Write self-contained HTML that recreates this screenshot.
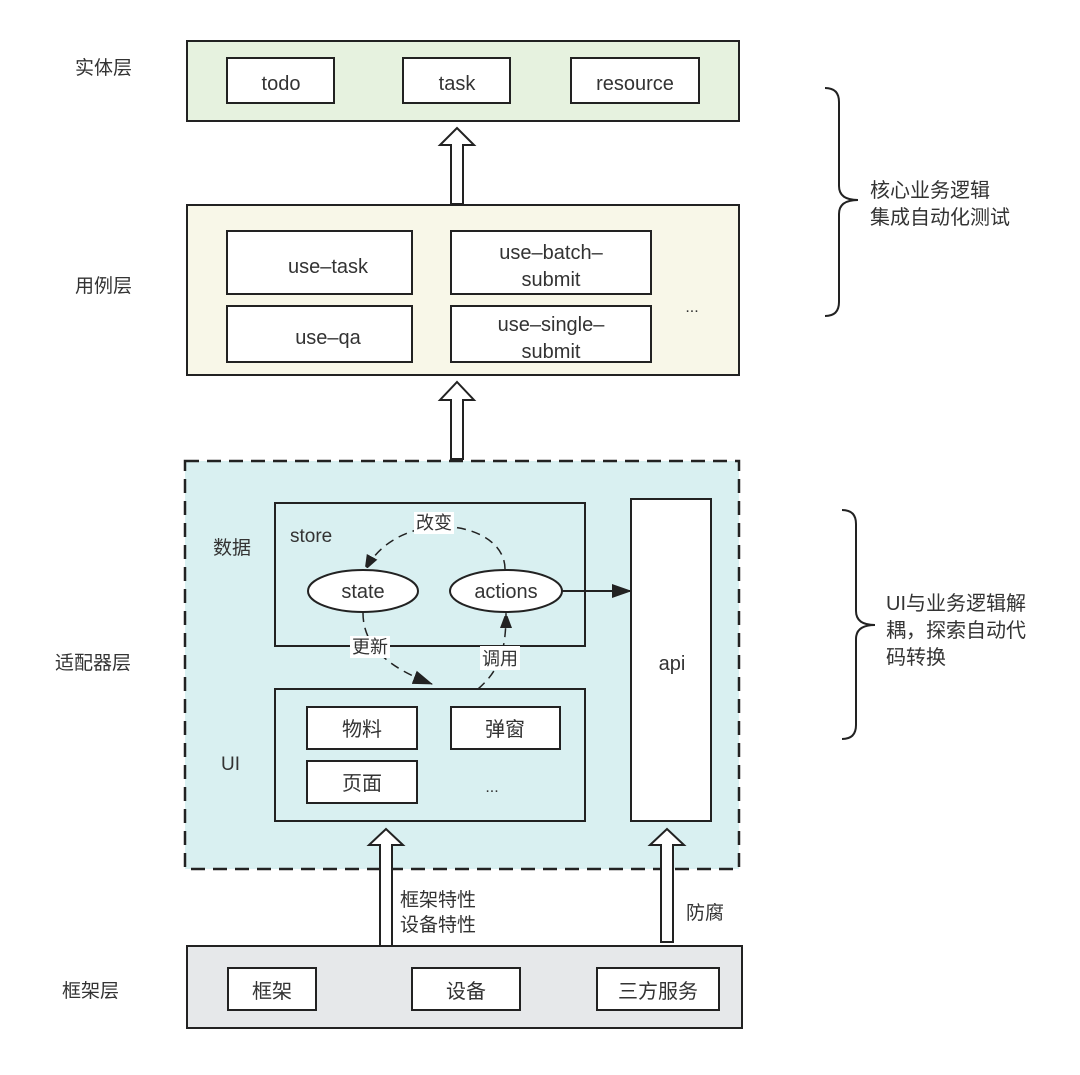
<!DOCTYPE html>
<html><head><meta charset="utf-8"><style>
body{margin:0;background:#fff}
svg text{font-family:"Liberation Sans","Noto Sans CJK SC",sans-serif;fill:#333}
</style></head><body>
<svg width="1080" height="1070" viewBox="0 0 1080 1070" xmlns="http://www.w3.org/2000/svg">
<defs>
<marker id="ah" markerWidth="12" markerHeight="16" refX="15" refY="6" orient="auto" markerUnits="userSpaceOnUse"><path d="M0,0 L16,6 L0,12 z" fill="#222"/></marker>
<marker id="ah2" markerWidth="20" markerHeight="14" refX="19" refY="7" orient="auto" markerUnits="userSpaceOnUse"><path d="M0,0 L20,7 L0,14 z" fill="#222"/></marker>
</defs>
<g font-size="19">
<text x="75" y="74">实体层</text>
<text x="75" y="292">用例层</text>
<text x="55" y="669">适配器层</text>
<text x="62" y="997">框架层</text>
</g>
<!-- entity -->
<rect x="187" y="41" width="552" height="80" fill="#e6f2df" stroke="#222" stroke-width="2"/>
<g fill="#fff" stroke="#222" stroke-width="2">
<rect x="227" y="58" width="107" height="45"/><rect x="403" y="58" width="107" height="45"/><rect x="571" y="58" width="128" height="45"/>
</g>
<g font-size="20" text-anchor="middle"><text x="281" y="90">todo</text><text x="457" y="90">task</text><text x="635" y="90">resource</text></g>
<!-- use-case -->
<rect x="187" y="205" width="552" height="170" fill="#f8f7e8" stroke="#222" stroke-width="2"/>
<g fill="#fff" stroke="#222" stroke-width="2">
<rect x="227" y="231" width="185" height="63"/><rect x="451" y="231" width="200" height="63"/>
<rect x="227" y="306" width="185" height="56"/><rect x="451" y="306" width="200" height="56"/>
</g>
<g font-size="20" text-anchor="middle">
<text x="328" y="273">use–task</text>
<text x="551" y="259">use–batch–</text><text x="551" y="286">submit</text>
<text x="328" y="344">use–qa</text>
<text x="551" y="331">use–single–</text><text x="551" y="358">submit</text>
<text x="692" y="312" font-size="16">...</text>
</g>
<!-- hollow arrows -->
<g fill="#fff" stroke="#222" stroke-width="2">
<path d="M451,204 L451,145 L440,145 L457,128 L474,145 L463,145 L463,204 z"/>
<path d="M451,459 L451,400 L440,400 L457,382 L474,400 L463,400 L463,459 z"/>
</g>
<!-- adapter -->
<rect x="185" y="461" width="554" height="408" fill="#d9f0f1" stroke="#222" stroke-width="2.5" stroke-dasharray="14,8"/>
<rect x="275" y="503" width="310" height="143" fill="none" stroke="#222" stroke-width="2"/>
<rect x="631" y="499" width="80" height="322" fill="#fff" stroke="#222" stroke-width="2"/>
<rect x="275" y="689" width="310" height="132" fill="none" stroke="#222" stroke-width="2"/>
<text x="672" y="670" font-size="20" text-anchor="middle">api</text>
<text x="213" y="554" font-size="19">数据</text>
<text x="221" y="770" font-size="19">UI</text>
<text x="290" y="542" font-size="19">store</text>
<!-- dashed connections -->
<path d="M505,569 C505,520 400,505 365,570" fill="none" stroke="#222" stroke-width="1.5" stroke-dasharray="9,6" marker-end="url(#ah)"/>
<rect x="414" y="512" width="40" height="22" fill="#fff"/>
<text x="434" y="529" font-size="18" text-anchor="middle">改变</text>
<path d="M363,613 C363,650 395,670 432,684" fill="none" stroke="#222" stroke-width="1.5" stroke-dasharray="9,6" marker-end="url(#ah2)"/>
<rect x="350" y="636" width="40" height="22" fill="#fff"/>
<text x="370" y="653" font-size="18" text-anchor="middle">更新</text>
<path d="M478,689 C500,670 506,650 506,613" fill="none" stroke="#222" stroke-width="1.5" stroke-dasharray="9,6" marker-end="url(#ah)"/>
<rect x="480" y="646" width="40" height="24" fill="#fff"/>
<text x="500" y="665" font-size="18" text-anchor="middle">调用</text>
<ellipse cx="363" cy="591" rx="55" ry="21" fill="#fff" stroke="#222" stroke-width="2"/>
<ellipse cx="506" cy="591" rx="56" ry="21" fill="#fff" stroke="#222" stroke-width="2"/>
<text x="363" y="598" font-size="20" text-anchor="middle">state</text>
<text x="506" y="598" font-size="20" text-anchor="middle">actions</text>
<line x1="562" y1="591" x2="631" y2="591" stroke="#222" stroke-width="2" marker-end="url(#ah2)"/>
<g fill="#fff" stroke="#222" stroke-width="2">
<rect x="307" y="707" width="110" height="42"/><rect x="451" y="707" width="109" height="42"/><rect x="307" y="761" width="110" height="42"/>
</g>
<g font-size="20" text-anchor="middle"><text x="362" y="736">物料</text><text x="505" y="736">弹窗</text><text x="362" y="790">页面</text><text x="492" y="792" font-size="16">...</text></g>
<!-- framework -->
<rect x="187" y="946" width="555" height="82" fill="#e6e8ea" stroke="#222" stroke-width="2"/>
<g fill="#fff" stroke="#222" stroke-width="2">
<rect x="228" y="968" width="88" height="42"/><rect x="412" y="968" width="108" height="42"/><rect x="597" y="968" width="122" height="42"/>
</g>
<g font-size="20" text-anchor="middle"><text x="272" y="998">框架</text><text x="466" y="998">设备</text><text x="658" y="998">三方服务</text></g>
<g fill="#fff" stroke="#222" stroke-width="2">
<path d="M380,946 L380,845 L369,845 L386,829 L403,845 L392,845 L392,946 z"/>
<path d="M661,942 L661,845 L650,845 L667,829 L684,845 L673,845 L673,942 z"/>
</g>
<g font-size="19"><text x="400" y="906">框架特性</text><text x="400" y="931">设备特性</text><text x="686" y="919">防腐</text></g>
<!-- braces -->
<path d="M825,88 Q839,88 839,102 L839,186 Q839,200 858,200 Q839,200 839,214 L839,302 Q839,316 825,316" fill="none" stroke="#222" stroke-width="2"/>
<g font-size="20"><text x="870" y="197">核心业务逻辑</text><text x="870" y="224">集成自动化测试</text></g>
<path d="M842,510 Q856,510 856,524 L856,611 Q856,625 875,625 Q856,625 856,639 L856,725 Q856,739 842,739" fill="none" stroke="#222" stroke-width="2"/>
<g font-size="20"><text x="886" y="610">UI与业务逻辑解</text><text x="886" y="637">耦，探索自动代</text><text x="886" y="664">码转换</text></g>
</svg>
</body></html>
